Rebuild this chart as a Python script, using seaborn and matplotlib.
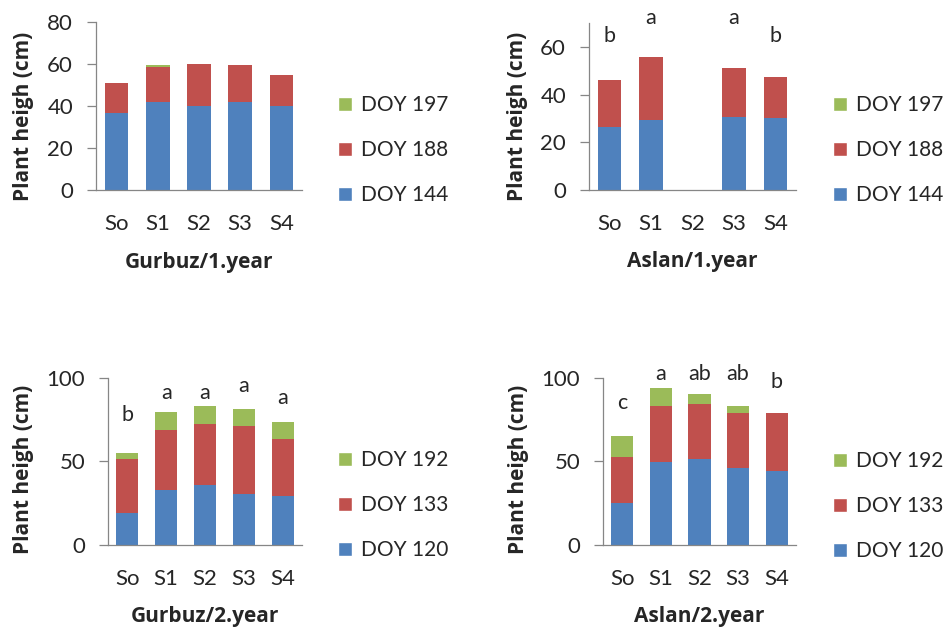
import numpy as np
import pandas as pd
import matplotlib
matplotlib.use("Agg")
import matplotlib.pyplot as plt
import seaborn as sns
from matplotlib.patches import Patch

# ---- data -------------------------------------------------------------
treatments = ["So", "S1", "S2", "S3", "S4"]

# Gurbuz, 1st year (height gained at each sampling date, cm)
g1_doy144 = [36.5, 42.0, 40.0, 41.7, 40.0]
g1_doy188 = [14.5, 16.7, 20.0, 17.8, 14.8]
g1_doy197 = [0.0, 0.8, 0.0, 0.0, 0.0]

# Aslan, 1st year
a1_doy144 = [26.2, 29.5, 0.0, 30.6, 30.1]
a1_doy188 = [19.7, 26.2, 0.0, 20.7, 17.4]
a1_doy197 = [0.0, 0.0, 0.0, 0.0, 0.0]

# Gurbuz, 2nd year
g2_doy120 = [18.9, 32.9, 35.7, 30.3, 29.3]
g2_doy133 = [32.7, 35.8, 36.8, 40.8, 34.1]
g2_doy192 = [3.6, 11.0, 10.6, 10.4, 9.9]

# Aslan, 2nd year
a2_doy120 = [25.3, 49.6, 51.2, 45.8, 44.4]
a2_doy133 = [27.5, 33.5, 32.9, 32.9, 34.3]
a2_doy192 = [12.4, 10.6, 6.2, 4.6, 0.0]

year1_dates = ["DOY 144", "DOY 188", "DOY 197"]
year2_dates = ["DOY 120", "DOY 133", "DOY 192"]

# significance letters
a1_letters = ["b", "a", "", "a", "b"]
g2_letters = ["b", "a", "a", "a", "a"]
a2_letters = ["c", "a", "ab", "ab", "b"]

# ---- layout / style -----------------------------------------------------
W, H = 947, 630
sns.set_style("white")
plt.rcParams["font.family"] = ["Lato", "DejaVu Sans"]
FS = 15
TICK_FS = 16
BOLD_FONT = ["Open Sans", "DejaVu Sans"]
BLUE, RED, GREEN = "#4F81BD", "#C0504D", "#9BBB59"
AXIS_GREY = "#868686"

fig = plt.figure(figsize=(W / 100, H / 100), dpi=100)


def px_axes(left, top, right, bottom):
    return fig.add_axes([left / W, 1 - bottom / H, (right - left) / W, (bottom - top) / H])


panels = [
    dict(box=(96, 22, 302, 190), layers=(g1_doy144, g1_doy188, g1_doy197),
         dates=year1_dates, ylim=80, ticks=[0, 20, 40, 60, 80], title="Gurbuz/1.year",
         letters=None, letter_y=None, ylab_x=-0.354, ylab_y=0.44,
         legend_xy=(338, 150)),
    dict(box=(589, 23, 796, 190), layers=(a1_doy144, a1_doy188, a1_doy197),
         dates=year1_dates, ylim=70, ticks=[0, 20, 40, 60], title="Aslan/1.year",
         letters=a1_letters, letter_y=[64.4, 71.9, 0, 71.9, 64.4], ylab_x=-0.343, ylab_y=0.443,
         legend_xy=(833, 150)),
    dict(box=(108, 377.7, 302, 545), layers=(g2_doy120, g2_doy133, g2_doy192),
         dates=year2_dates, ylim=100, ticks=[0, 50, 100], title="Gurbuz/2.year",
         letters=g2_letters, letter_y=[77.7, 91, 91, 95, 88], ylab_x=-0.438, ylab_y=0.454,
         legend_xy=(338, 505)),
    dict(box=(603, 377.7, 796, 545), layers=(a2_doy120, a2_doy133, a2_doy192),
         dates=year2_dates, ylim=100, ticks=[0, 50, 100], title="Aslan/2.year",
         letters=a2_letters, letter_y=[84.7, 102, 102, 102, 97.6], ylab_x=-0.44, ylab_y=0.454,
         legend_xy=(833, 506)),
]

for p in panels:
    ax = px_axes(*p["box"])
    low, mid, top = (np.asarray(v, dtype=float) for v in p["layers"])
    stacks = [(low + mid + top, GREEN), (low + mid, RED), (low, BLUE)]
    # overlay cumulative totals from tallest to shortest to form the stacks
    for heights, col in stacks:
        df = pd.DataFrame({"treatment": treatments, "height": heights})
        sns.barplot(data=df, x="treatment", y="height", color=col, saturation=1,
                    width=0.57, errorbar=None, linewidth=0, ax=ax)

    ax.set_xlim(-0.5, len(treatments) - 0.5)
    ax.set_ylim(0, p["ylim"])
    ax.set_yticks(p["ticks"])
    ax.set_yticklabels([str(t) for t in p["ticks"]])
    for s in ("top", "right"):
        ax.spines[s].set_visible(False)
    for s in ("left", "bottom"):
        ax.spines[s].set_color(AXIS_GREY)
        ax.spines[s].set_linewidth(0.9)
    ax.tick_params(axis="y", direction="out", length=6.5, width=0.9, color=AXIS_GREY,
                   labelsize=TICK_FS, pad=10, left=True)
    ax.tick_params(axis="x", length=0, labelsize=TICK_FS, pad=17)

    ax.set_ylabel("Plant heigh (cm)", fontsize=FS, fontweight="bold", family=BOLD_FONT)
    ax.yaxis.set_label_coords(p["ylab_x"], p["ylab_y"])
    ax.set_xlabel(p["title"], fontsize=FS, fontweight="bold", family=BOLD_FONT)
    ax.xaxis.set_label_coords(0.5, -0.43)
    ax.xaxis.label.set_va("center")
    ax.yaxis.label.set_va("center")

    if p["letters"]:
        for i, (lab, y) in enumerate(zip(p["letters"], p["letter_y"])):
            if lab:
                ax.text(i, y, lab, ha="center", va="center", fontsize=FS + 0.5, clip_on=False)

    handles = [Patch(facecolor=GREEN), Patch(facecolor=RED), Patch(facecolor=BLUE)]
    labels = [p["dates"][2], p["dates"][1], p["dates"][0]]
    lx, ly = p["legend_xy"]
    ax.legend(handles, labels, loc="center left", bbox_to_anchor=(lx / W, 1 - ly / H),
              bbox_transform=fig.transFigure, frameon=False, fontsize=FS,
              handlelength=0.65, handleheight=0.65, handletextpad=0.45,
              labelspacing=1.2, borderpad=0, borderaxespad=0)

fig.savefig("out.png", dpi=100, facecolor="white")
